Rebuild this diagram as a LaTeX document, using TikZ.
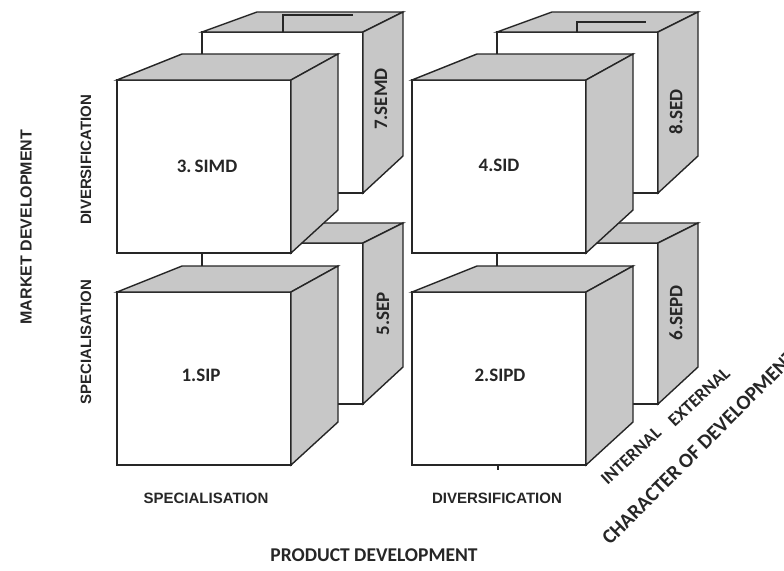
\documentclass[tikz,border=0pt]{standalone}
\usepackage{fontspec}
\setmainfont{Carlito}
\newfontfamily\arialf{Liberation Sans}
\tikzset{
  face/.style={draw=black!85, fill=white, line width=1.4pt, line join=miter},
  side/.style={draw=black!85, fill=black!22, line width=1.4pt, line join=miter},
  cubelbl/.style={font=\fontsize{19}{22}\selectfont\bfseries, text=black!85, inner sep=0pt},
  axislbl/.style={font=\arialf\fontsize{15}{17}\selectfont\bfseries, text=black!85, inner sep=0pt},
  charlbl/.style={font=\fontsize{18}{20}\selectfont\bfseries, text=black!85, inner sep=0pt},
  plain/.style={draw=black!85, line width=1.4pt}
}
\newcommand\frontcube[2]{%
  \begin{scope}[shift={(#1,#2)}]
    \filldraw[face] (117,80) rectangle (291,253);
    \filldraw[side] (117,80) -- (182,54) -- (338,54) -- (291,80) -- cycle;
    \filldraw[side] (291,80) -- (338,54) -- (338,210) -- (291,253) -- cycle;
  \end{scope}}
\newcommand\backcube[2]{%
  \begin{scope}[shift={(#1,#2)}]
    \filldraw[face] (202,32) rectangle (363,193);
    \filldraw[side] (202,32) -- (257,12) -- (403,12) -- (363,32) -- cycle;
    \filldraw[side] (363,32) -- (403,12) -- (403,156) -- (363,193) -- cycle;
  \end{scope}}
\begin{document}
\begin{tikzpicture}[x=1pt,y=-1pt]
\useasboundingbox (0,0) rectangle (784,570);
% back cubes
\backcube{0}{0}
\backcube{295}{0}
\draw[plain] (283,32) -- (283,15) -- (353,15);
\draw[plain] (577,32) -- (577,22) -- (646,22);
\backcube{0}{211}
\backcube{295}{211}
% front cubes
\frontcube{0}{0}
\frontcube{295}{0}
\frontcube{0}{212}
\frontcube{295}{212}
\draw[plain] (498,465) -- (498,470);
% cube labels
\node[cubelbl] (c3) at (207,166) {3.\,SIMD};
\node[cubelbl] (c4) at (499,165) {4.SID};
\node[cubelbl] (c1) at (201,375) {1.SIP};
\node[cubelbl] (c2) at (500,375) {2.SIPD};
\node[cubelbl, rotate=90] (c7) at (381,99) {7.SEMD};
\node[cubelbl, rotate=90] (c8) at (676,112) {8.SED};
\node[cubelbl, rotate=90] (c5) at (383,314) {5.SEP};
\node[cubelbl, rotate=90] (c6) at (676,313) {6.SEPD};
% axis labels
\node[axislbl, rotate=90] (mdiv) at (86,160) {DIVERSIFICATION};
\node[axislbl, rotate=90] (mspec) at (86,342) {SPECIALISATION};
\node[axislbl, rotate=90, font=\arialf\fontsize{16}{18}\selectfont\bfseries] (md) at (26,227) {MARKET DEVELOPMENT};
\node[axislbl] (pspec) at (206,498) {SPECIALISATION};
\node[axislbl] (pdiv) at (497,498) {DIVERSIFICATION};
\node[cubelbl, font=\fontsize{19.5}{22}\selectfont\bfseries] (pd) at (374,555) {PRODUCT DEVELOPMENT};
\node[charlbl, rotate=43] (int) at (631,456) {INTERNAL};
\node[charlbl, rotate=43] (ext) at (699,397) {EXTERNAL};
\node[charlbl, rotate=45, font=\fontsize{20.5}{23}\selectfont\bfseries, anchor=base west] (cod) at (610,546) {CHARACTER OF DEVELOPMENT};
\end{tikzpicture}
\end{document}
